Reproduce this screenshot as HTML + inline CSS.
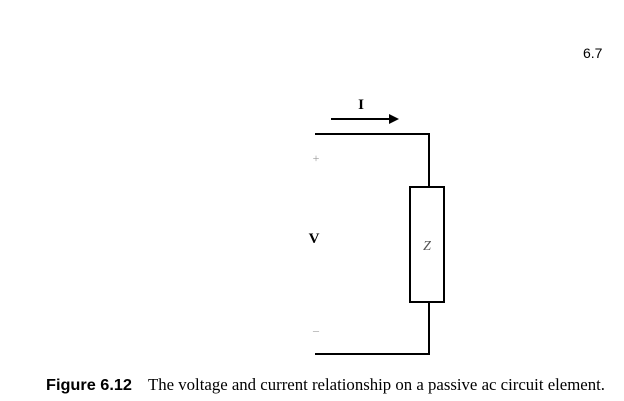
<html><body style="margin:0;width:624px;height:401px;background:#fff;position:relative;overflow:hidden">
<svg width="624" height="401" style="position:absolute;left:0;top:0">
<g stroke="#000" stroke-width="2" fill="none">
<polyline points="315,134 429,134 429,187"/>
<rect x="410" y="187" width="34" height="115" fill="#fff"/>
<polyline points="429,302 429,354 315,354"/>
<line x1="331" y1="119" x2="390" y2="119"/>
</g>
<polygon points="399,119 389,114 389,124" fill="#000"/>
<g font-family="Liberation Serif, serif" fill="#000">
<text x="361" y="109" font-size="15" font-weight="bold" text-anchor="middle">I</text>
<text x="316" y="162" font-size="12" fill="#999" text-anchor="middle">+</text>
<text x="314" y="243" font-size="15" font-weight="bold" text-anchor="middle">V</text>
<text x="316" y="334" font-size="12" fill="#999" text-anchor="middle">–</text>
<text x="427" y="250" font-size="14" font-style="italic" fill="#555" text-anchor="middle">Z</text>
<text x="148" y="390" font-size="16.5" textLength="457" lengthAdjust="spacingAndGlyphs">The voltage and current relationship on a passive ac circuit element.</text>
</g>
<text x="46" y="390" font-family="Liberation Sans, sans-serif" font-size="16" font-weight="bold" textLength="86" lengthAdjust="spacingAndGlyphs">Figure 6.12</text>
<text x="583" y="58" font-family="Liberation Sans, sans-serif" font-size="14">6.7</text>
</svg>
</body></html>
